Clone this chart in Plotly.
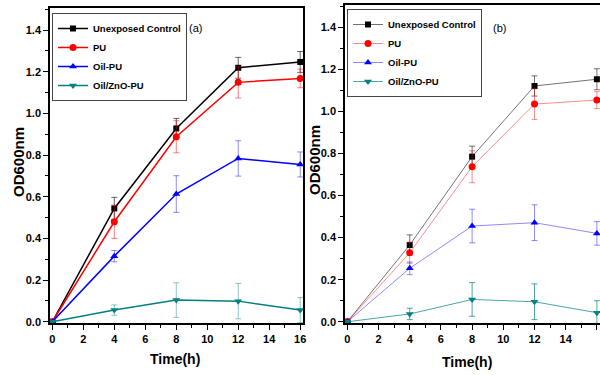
import plotly.graph_objects as go

time = [0, 4, 8, 12, 16]
series_names = ["Unexposed Control", "PU", "Oil-PU", "Oil/ZnO-PU"]

# Panel (a)
a_control = [0, 0.544, 0.928, 1.219, 1.247]
a_control_err = [0, 0.053, 0.048, 0.05, 0.05]
a_pu = [0, 0.48, 0.888, 1.149, 1.168]
a_pu_err = [0, 0.08, 0.077, 0.075, 0.045]
a_oil = [0, 0.315, 0.613, 0.784, 0.755]
a_oil_err = [0, 0.027, 0.088, 0.085, 0.06]
a_zno = [0, 0.056, 0.104, 0.099, 0.056]
a_zno_err = [0, 0.025, 0.083, 0.085, 0.06]

# Panel (b)
b_control = [0, 0.365, 0.785, 1.121, 1.153]
b_control_err = [0, 0.048, 0.05, 0.048, 0.05]
b_pu = [0, 0.328, 0.737, 1.035, 1.054]
b_pu_err = [0, 0.05, 0.076, 0.073, 0.04]
b_oil = [0, 0.254, 0.455, 0.471, 0.42]
b_oil_err = [0, 0.03, 0.08, 0.085, 0.056]
b_zno = [0, 0.037, 0.106, 0.095, 0.043]
b_zno_err = [0, 0.027, 0.08, 0.085, 0.057]

x_ticks = [0, 2, 4, 6, 8, 10, 12, 14, 16]
y_ticks = [0.0, 0.2, 0.4, 0.6, 0.8, 1.0, 1.2, 1.4]
y_tick_labels = ["0.0", "0.2", "0.4", "0.6", "0.8", "1.0", "1.2", "1.4"]

FONT = "Liberation Sans, Arial, sans-serif"

colors = ["#000000", "#ff0000", "#0000ff", "#008080"]
light_a = ["rgba(0,0,0,0.6)", "rgba(255,0,0,0.5)", "rgba(0,0,255,0.45)", "rgba(0,128,128,0.45)"]
line_b = ["rgba(0,0,0,0.55)", "rgba(255,0,0,0.45)", "rgba(0,0,255,0.45)", "rgba(0,128,128,0.7)"]
symbols = ["square", "circle", "triangle-up", "triangle-down"]
msizes = [6, 7, 7, 7]

data_a = [(a_control, a_control_err), (a_pu, a_pu_err), (a_oil, a_oil_err), (a_zno, a_zno_err)]
data_b = [(b_control, b_control_err), (b_pu, b_pu_err), (b_oil, b_oil_err), (b_zno, b_zno_err)]

fig = go.Figure()
for i, (vals, errs) in enumerate(data_a):
    fig.add_trace(go.Scatter(
        x=time, y=vals, name=series_names[i], mode="lines+markers",
        line=dict(color=colors[i], width=1.5),
        marker=dict(symbol=symbols[i], size=msizes[i], color=colors[i]),
        error_y=dict(type="data", array=errs, visible=True, color=light_a[i], thickness=1, width=3),
        xaxis="x", yaxis="y", legend="legend"))
for i, (vals, errs) in enumerate(data_b):
    fig.add_trace(go.Scatter(
        x=time, y=vals, name=series_names[i], mode="lines+markers",
        line=dict(color=line_b[i], width=1),
        marker=dict(symbol=symbols[i], size=msizes[i], color=colors[i]),
        error_y=dict(type="data", array=errs, visible=True, color=line_b[i], thickness=1, width=3),
        xaxis="x2", yaxis="y2", legend="legend2"))

W, H = 600, 375
def px(x):
    return x / W
def py(y):
    return 1 - y / H

axis_common = dict(
    showline=True, linecolor="black", linewidth=1.5, showgrid=False, zeroline=False,
    ticks="outside", ticklen=5, tickwidth=1, tickcolor="black", automargin=False,
    tickfont=dict(family=FONT, size=11, color="black", weight="bold"),
)

leg_font = dict(family=FONT, size=9.5, color="black", weight="bold")

fig.update_layout(
    width=W, height=H, margin=dict(l=0, r=0, t=0, b=0, pad=0, autoexpand=False),
    paper_bgcolor="white", plot_bgcolor="white",
    font=dict(family=FONT, color="black"),
    xaxis=dict(domain=[px(50), px(303)], range=[-0.15, 16.18], anchor="y",
               tickvals=x_ticks, mirror=True,
               minor=dict(dtick=1, ticks="outside", ticklen=3, tickcolor="black"),
               **axis_common),
    yaxis=dict(domain=[py(323), py(8)], range=[-0.006, 1.506], anchor="x",
               tickvals=y_ticks, ticktext=y_tick_labels, mirror=True,
               minor=dict(dtick=0.1, ticks="outside", ticklen=3, tickcolor="black"),
               **axis_common),
    xaxis2=dict(domain=[px(345), 1.0], range=[-0.15, 16.2], anchor="y2",
                tickvals=x_ticks, mirror=True,
                minor=dict(dtick=1, ticks="outside", ticklen=3, tickcolor="black"),
                **axis_common),
    yaxis2=dict(domain=[py(323), py(5)], range=[-0.006, 1.506], anchor="x2",
                tickvals=y_ticks, ticktext=y_tick_labels, mirror=False,
                minor=dict(dtick=0.1, ticks="outside", ticklen=3, tickcolor="black"),
                **axis_common),
    legend=dict(x=px(52), y=py(13), xanchor="left", yanchor="top",
                bordercolor="#444", borderwidth=1, bgcolor="white",
                font=leg_font, itemwidth=30, tracegroupgap=0),
    legend2=dict(x=px(347), y=py(9), xanchor="left", yanchor="top",
                 bordercolor="#444", borderwidth=1, bgcolor="white",
                 font=leg_font, itemwidth=30, tracegroupgap=0),
    showlegend=True,
)

def note(text, x, y, size, bold=True, angle=0):
    fig.add_annotation(text=text, x=px(x), y=py(y), xref="paper", yref="paper",
                       xanchor="center", yanchor="middle", textangle=angle, showarrow=False,
                       font=dict(family=FONT, size=size, color="black",
                                 weight="bold" if bold else "normal"))

note("OD600nm", 19, 162, 15, angle=-90)
note("OD600nm", 314, 160, 15, angle=-90)
note("Time(h)", 175, 359, 14)
note("Time(h)", 467, 362, 14)
note("(a)", 195, 28, 11, bold=False)
note("(b)", 499, 28, 11, bold=False)

fig.write_html("out.html", config={"displayModeBar": False},
               post_script="document.body.style.margin='0px';")
